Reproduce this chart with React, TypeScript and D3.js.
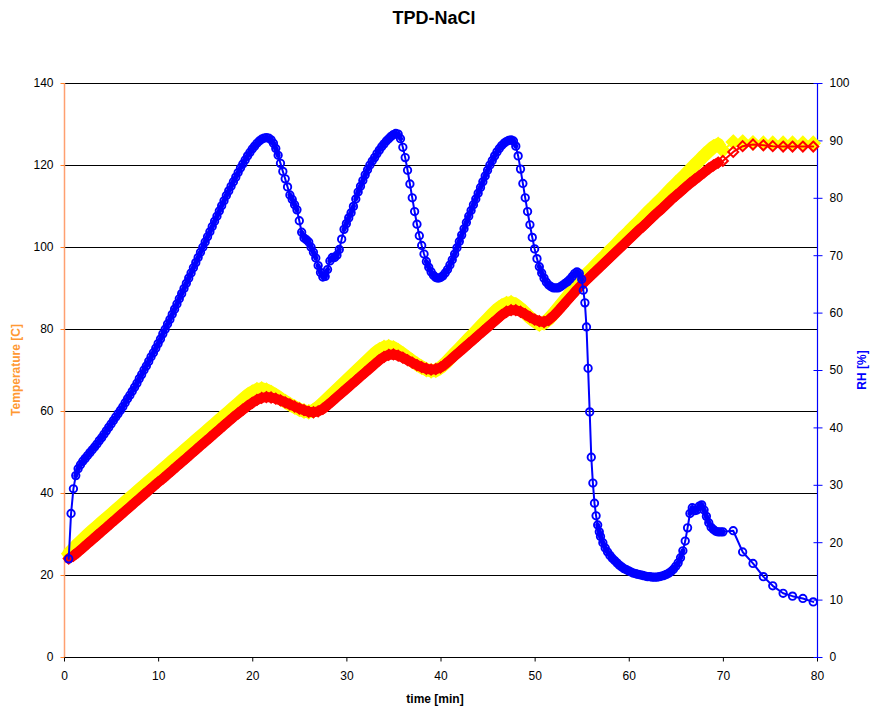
import { useEffect, useRef } from 'react';
import * as d3 from 'd3';

// TPD-NaCl run: temperature (two sensors, left axis) and RH (right axis) vs time

const chartTitle = 'TPD-NaCl';
const timeTicks = [0, 10, 20, 30, 40, 50, 60, 70, 80];
const tempTicks = [0, 20, 40, 60, 80, 100, 120, 140];
const rhTicks = [0, 10, 20, 30, 40, 50, 60, 70, 80, 90, 100];

// temperature logged every 0.5 min from 0.5 to 69.5 min, then about once a minute
const tempStart = 0.5;
const tempStep = 0.5;
const tailTimes = [70.0, 71.1, 72.1, 73.2, 74.3, 75.3, 76.4, 77.4, 78.5, 79.6];

// yellow sensor [C]
const tempYellow = [
  25.2, 26.4, 27.6, 28.7, 29.8, 30.8, 31.8, 32.8, 33.8, 34.8,
  35.8, 36.8, 37.8, 38.8, 39.8, 40.8, 41.8, 42.8, 43.8, 44.8,
  45.8, 46.8, 47.8, 48.8, 49.8, 50.8, 51.8, 52.8, 53.8, 54.8,
  55.8, 56.8, 57.8, 58.8, 59.8, 60.8, 61.8, 62.8, 63.8, 64.6,
  65.2, 65.4, 65.1, 64.5, 63.8, 63.0, 62.3, 61.6, 61.0, 60.4,
  60.0, 59.8, 60.1, 60.9, 61.9, 63.0, 64.1, 65.2, 66.3, 67.4,
  68.5, 69.6, 70.7, 71.8, 72.9, 74.0, 74.9, 75.5, 75.7, 75.4,
  74.7, 73.9, 73.0, 72.2, 71.4, 70.7, 70.1, 69.8, 69.9, 70.6,
  71.6, 72.8, 74.0, 75.2, 76.4, 77.6, 78.8, 80.0, 81.2, 82.4,
  83.6, 84.7, 85.6, 86.2, 86.4, 85.9, 85.0, 83.9, 82.8, 81.9,
  81.2, 81.5, 82.4, 83.7, 85.1, 86.5, 87.9, 89.3, 90.7, 92.1,
  93.3, 94.4, 95.6, 96.8, 97.9, 99.1, 100.2, 101.4, 102.6, 103.7,
  104.9, 106.0, 107.2, 108.4, 109.5, 110.7, 111.8, 113.0, 114.2, 115.3,
  116.5, 117.6, 118.8, 120.0, 121.1, 122.3, 123.4, 124.4, 125.0,
];
const tempYellowTail = [123.6, 125.6, 125.6, 125.4, 125.3, 125.3, 125.3, 125.3, 125.3, 125.3];

// red sensor [C]
const tempRed = [
  24.0, 24.7, 25.6, 26.6, 27.6, 28.6, 29.6, 30.6, 31.6, 32.6,
  33.6, 34.6, 35.6, 36.6, 37.6, 38.6, 39.6, 40.6, 41.6, 42.6,
  43.5, 44.5, 45.5, 46.5, 47.5, 48.5, 49.5, 50.5, 51.5, 52.5,
  53.5, 54.5, 55.5, 56.5, 57.5, 58.5, 59.4, 60.3, 61.2, 62.0,
  62.7, 63.2, 63.4, 63.3, 63.0, 62.6, 62.1, 61.6, 61.1, 60.6,
  60.2, 59.8, 59.7, 59.9, 60.5, 61.4, 62.4, 63.4, 64.4, 65.4,
  66.4, 67.4, 68.4, 69.4, 70.4, 71.4, 72.4, 73.2, 73.7, 73.8,
  73.5, 73.0, 72.4, 71.8, 71.2, 70.7, 70.3, 70.1, 70.2, 70.6,
  71.4, 72.4, 73.4, 74.4, 75.4, 76.4, 77.4, 78.4, 79.4, 80.4,
  81.4, 82.4, 83.4, 84.2, 84.6, 84.6, 84.2, 83.6, 82.9, 82.3,
  81.9, 81.7, 82.2, 83.2, 84.4, 85.7, 87.0, 88.3, 89.6, 90.8,
  91.9, 93.0, 94.1, 95.2, 96.3, 97.4, 98.5, 99.6, 100.7, 101.8,
  102.9, 104.0, 105.0, 106.1, 107.2, 108.3, 109.3, 110.4, 111.5, 112.5,
  113.5, 114.5, 115.5, 116.4, 117.3, 118.2, 119.1, 119.9, 120.6,
];
const tempRedTail = [121.0, 123.2, 124.6, 125.0, 124.8, 124.6, 124.5, 124.5, 124.5, 124.5];

// RH [%]: every 0.25 min from 0.5 to 55.0 min
const rhStart = 0.5;
const rhStep = 0.25;
const rhEarly = [
  17.1, 25.0, 29.3, 31.6, 32.8, 33.5, 34.1, 34.6,
  35.1, 35.6, 36.1, 36.6, 37.1, 37.7, 38.2, 38.8,
  39.4, 40.0, 40.6, 41.2, 41.8, 42.4, 43.0, 43.6,
  44.3, 45.0, 45.6, 46.3, 47.0, 47.7, 48.5, 49.2,
  50.0, 50.7, 51.5, 52.3, 53.0, 53.8, 54.6, 55.4,
  56.3, 57.1, 58.0, 58.8, 59.7, 60.6, 61.5, 62.4,
  63.3, 64.2, 65.1, 66.0, 66.9, 67.8, 68.7, 69.6,
  70.5, 71.4, 72.3, 73.2, 74.1, 75.0, 75.9, 76.8,
  77.7, 78.6, 79.5, 80.4, 81.2, 82.0, 82.8, 83.6,
  84.4, 85.2, 85.9, 86.6, 87.3, 87.9, 88.5, 89.0,
  89.5, 89.9, 90.2, 90.4, 90.5, 90.4, 90.1, 89.5,
  88.6, 87.4, 86.0, 84.6, 83.3, 81.9, 80.5, 79.7,
  78.8, 77.9, 76.0, 74.0, 73.0, 72.7, 72.3, 71.4,
  70.5, 69.5, 68.2, 67.0, 66.2, 66.3, 67.5, 69.0,
  69.6, 69.6, 70.0, 71.0, 72.8, 74.5, 75.5, 76.5,
  77.4, 78.5, 79.8, 81.0, 82.0, 83.0, 84.0, 84.9,
  85.7, 86.4, 87.0, 87.7, 88.3, 88.9, 89.4, 89.9,
  90.3, 90.7, 91.0, 91.2, 91.1, 90.3, 88.8, 87.0,
  84.8, 82.4, 80.0, 77.6, 75.4, 73.4, 71.7, 70.2,
  68.9, 67.9, 67.1, 66.5, 66.1, 66.0, 66.1, 66.4,
  66.9, 67.5, 68.3, 69.2, 70.2, 71.3, 72.4, 73.5,
  74.6, 75.7, 76.8, 77.8, 78.8, 79.8, 80.8, 81.8,
  82.8, 83.8, 84.8, 85.7, 86.5, 87.3, 88.0, 88.6,
  89.1, 89.5, 89.8, 90.0, 90.1, 89.9, 89.0, 87.3,
  85.0, 82.5, 80.0, 77.6, 75.3, 73.1, 71.1, 69.4,
  68.0, 66.9, 66.0, 65.3, 64.8, 64.5, 64.3, 64.3,
  64.3, 64.5, 64.8, 65.1, 65.4, 65.8, 66.3, 66.8,
  67.1, 66.8, 65.8,
];
// the fast drop after 55 min
const rhDropTimes = [55.17, 55.34, 55.51, 55.68, 55.85, 56.02, 56.19, 56.36, 56.53, 56.7, 56.87];
const rhDrop = [63.9, 61.7, 57.5, 50.3, 42.7, 34.8, 30.3, 26.8, 24.6, 23.0, 21.8];
// every 0.25 min from 57.0 to 69.75 min
const rhLateStart = 57.0;
const rhLate = [
  21.0, 19.9, 19.0, 18.3, 17.7, 17.2, 16.8, 16.4,
  16.0, 15.7, 15.4, 15.2, 15.0, 14.8, 14.6, 14.5,
  14.4, 14.3, 14.2, 14.1, 14.0, 14.0, 13.9, 13.9,
  13.9, 14.0, 14.1, 14.2, 14.4, 14.6, 14.9, 15.3,
  15.8, 16.4, 17.3, 18.5, 20.2, 22.5, 25.0, 26.0,
  25.5, 25.6, 26.3, 26.5, 25.6, 24.5, 23.4, 22.6,
  22.2, 21.9, 21.8, 21.8,
];
const rhTail = [21.8, 22.0, 18.3, 16.3, 14.0, 12.4, 11.1, 10.6, 10.2, 9.6];

type Pt = { t: number; v: number };

function gridSeries(start: number, step: number, values: number[]): Pt[] {
  return values.map((v, i) => ({ t: start + i * step, v }));
}
function pairSeries(times: number[], values: number[]): Pt[] {
  return values.map((v, i) => ({ t: times[i], v }));
}

const diamond = (s: number) => `M0,${-s}L${s},0L0,${s}L${-s},0Z`;

export default function App() {
  const svgRef = useRef<SVGSVGElement>(null);

  useEffect(() => {
    const width = 870;
    const height = 710;
    const svg = d3.select(svgRef.current);
    svg.selectAll('*').remove();
    svg.attr('width', width).attr('height', height);

    const font = 'Liberation Sans, Arial, sans-serif';
    const left = 64, right = 817, top = 83, bottom = 657;

    const x = d3.scaleLinear().domain([0, 80]).range([left, right]);
    const yT = d3.scaleLinear().domain([0, 140]).range([bottom, top]);
    const yRH = d3.scaleLinear().domain([0, 100]).range([bottom, top]);

    const yellowDense = gridSeries(tempStart, tempStep, tempYellow);
    const redDense = gridSeries(tempStart, tempStep, tempRed);
    const yellow = [...yellowDense, ...pairSeries(tailTimes, tempYellowTail)];
    const red = [...redDense, ...pairSeries(tailTimes, tempRedTail)];
    const rh = [
      ...gridSeries(rhStart, rhStep, rhEarly),
      ...pairSeries(rhDropTimes, rhDrop),
      ...gridSeries(rhLateStart, rhStep, rhLate),
      ...pairSeries(tailTimes, rhTail),
    ];

    svg.append('rect').attr('width', width).attr('height', height).attr('fill', '#fff');

    // title
    svg.append('text')
      .attr('x', 434).attr('y', 24)
      .attr('text-anchor', 'middle')
      .style('font-family', font).style('font-size', '18px').style('font-weight', 'bold')
      .text(chartTitle);

    // horizontal grid
    svg.append('g')
      .selectAll('line')
      .data(tempTicks.filter(d => d > 0))
      .join('line')
      .attr('x1', left).attr('x2', right)
      .attr('y1', d => yT(d) + 0.5).attr('y2', d => yT(d) + 0.5)
      .attr('stroke', '#000').attr('stroke-width', 1);

    // bottom axis
    const xAxis = svg.append('g')
      .attr('transform', `translate(0,${bottom + 0.5})`)
      .call(d3.axisBottom(x).tickValues(timeTicks).tickSize(4).tickPadding(10).tickFormat(d3.format('d')));
    xAxis.select('.domain').attr('stroke', '#000').attr('d', `M${left},0H${right}`);
    xAxis.selectAll('.tick line').attr('stroke', '#000');
    xAxis.selectAll('text').style('font-family', font).style('font-size', '12px').attr('fill', '#000');

    // left axis (temperature)
    const yAxisL = svg.append('g')
      .attr('transform', `translate(${left + 0.5},0)`)
      .call(d3.axisLeft(yT).tickValues(tempTicks).tickSize(4).tickPadding(7));
    yAxisL.select('.domain').attr('stroke', '#FFA070').attr('stroke-width', 1.5).attr('d', `M0,${bottom}V${top}`);
    yAxisL.selectAll('.tick line').attr('stroke', '#FF7F27');
    yAxisL.selectAll('text').style('font-family', font).style('font-size', '12px').attr('fill', '#000');

    // right axis (RH)
    const yAxisR = svg.append('g')
      .attr('transform', `translate(${right + 0.5},0)`)
      .call(d3.axisRight(yRH).tickValues(rhTicks).tickSize(5).tickPadding(7));
    yAxisR.select('.domain').attr('stroke', '#0000FF').attr('stroke-width', 1.2).attr('d', `M0,${bottom}V${top}`);
    yAxisR.selectAll('.tick line').attr('stroke', '#0000FF').attr('x1', -4).attr('x2', 5);
    yAxisR.selectAll('text').style('font-family', font).style('font-size', '12px').attr('fill', '#000');

    // axis titles
    svg.append('text')
      .attr('transform', `translate(20,${(top + bottom) / 2}) rotate(-90)`)
      .attr('text-anchor', 'middle')
      .style('font-family', font).style('font-size', '12px').style('font-weight', 'bold')
      .attr('fill', '#FF9933')
      .text('Temperature [C]');
    svg.append('text')
      .attr('transform', `translate(866,${(top + bottom) / 2}) rotate(-90)`)
      .attr('text-anchor', 'middle')
      .style('font-family', font).style('font-size', '12px').style('font-weight', 'bold')
      .attr('fill', '#0000FF')
      .text('RH [%]');
    svg.append('text')
      .attr('x', 435).attr('y', 703)
      .attr('text-anchor', 'middle')
      .style('font-family', font).style('font-size', '12px').style('font-weight', 'bold')
      .text('time [min]');

    const plot = svg.append('g');
    const tLine = d3.line<Pt>().x(d => x(d.t)).y(d => yT(d.v));
    const rhLine = d3.line<Pt>().x(d => x(d.t)).y(d => yRH(d.v));

    // the logger wrote so many points that the markers merge into a band;
    // a wide stroke along the densely sampled part stands in for that
    const band = (data: Pt[], line: d3.Line<Pt>, color: string, w: number) =>
      plot.append('path')
        .datum(data)
        .attr('fill', 'none').attr('stroke', color).attr('stroke-width', w)
        .attr('stroke-linejoin', 'round').attr('stroke-linecap', 'round')
        .attr('d', line);

    // yellow sensor
    band(yellowDense, tLine, '#FFFF00', 13);
    band(yellow, tLine, '#FFFF00', 2);
    plot.append('g')
      .selectAll('path')
      .data(yellow)
      .join('path')
      .attr('transform', d => `translate(${x(d.t)},${yT(d.v)})`)
      .attr('d', diamond(6.5))
      .attr('fill', '#FFFF00').attr('stroke', '#FFFF00').attr('stroke-width', 2);

    // red sensor
    band(redDense, tLine, '#FF0000', 10);
    band(red, tLine, '#FF0000', 2);
    plot.append('g')
      .selectAll('path')
      .data(red)
      .join('path')
      .attr('transform', d => `translate(${x(d.t)},${yT(d.v)})`)
      .attr('d', diamond(5))
      .attr('fill', 'none').attr('stroke', '#FF0000').attr('stroke-width', 2);

    // RH: thick only where neighbouring markers overlap
    const rhPairs = d3.pairs(rh).filter(([a, b]) =>
      Math.hypot(x(b.t) - x(a.t), yRH(b.v) - yRH(a.v)) < 7.5);
    plot.append('g')
      .selectAll('line')
      .data(rhPairs)
      .join('line')
      .attr('x1', d => x(d[0].t)).attr('y1', d => yRH(d[0].v))
      .attr('x2', d => x(d[1].t)).attr('y2', d => yRH(d[1].v))
      .attr('stroke', '#0000FF').attr('stroke-width', 5).attr('stroke-linecap', 'round');
    band(rh, rhLine, '#0000FF', 2);
    plot.append('g')
      .selectAll('circle')
      .data(rh)
      .join('circle')
      .attr('cx', d => x(d.t)).attr('cy', d => yRH(d.v))
      .attr('r', 3.7)
      .attr('fill', 'none').attr('stroke', '#0000FF').attr('stroke-width', 1.9);
  }, []);

  return (
    <svg ref={svgRef} style={{ position: 'absolute', left: 0, top: 0, display: 'block' }}></svg>
  );
}
